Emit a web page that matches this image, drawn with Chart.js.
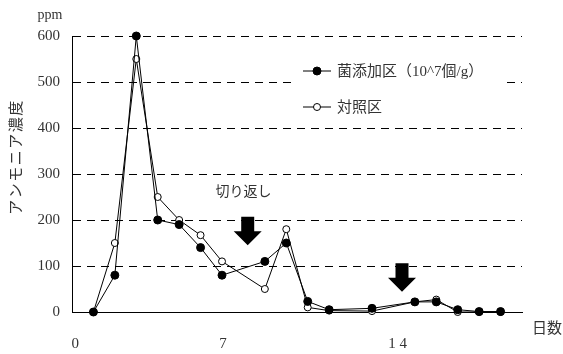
<!DOCTYPE html>
<html lang="ja">
<head>
<meta charset="utf-8">
<script src="https://cdn.jsdelivr.net/npm/chart.js@4/dist/chart.umd.min.js"></script>
<style>
  html, body { margin: 0; padding: 0; background: #fff; }
</style>
</head>
<body>
<canvas id="myChart" width="563" height="354"></canvas>
<script>
"use strict";

// days after start, and ammonia (ppm) for each plot
const days = [1, 2, 3, 4, 5, 6, 7, 9, 10, 11, 12, 14, 16, 17, 18, 19, 20];
const inoculated = [0, 80, 600, 200, 190, 140, 80, 110, 150, 23, 5, 8, 22, 22, 5, 1, 1];
const control = [0, 150, 550, 250, 200, 167, 110, 50, 180, 10, 3, 2, 22, 27, 0, 0, 0];
const seriesNames = ["菌添加区（10^7個/g）", "対照区"];

const yTicks = [0, 100, 200, 300, 400, 500, 600];
const xTickValues = [0.15, 7.05, 15.2];
const xTickLabels = ["0", "7", "1 4"];

// turning ("切り返し") marks: day and ppm at the arrow tip
const arrowDays = [8.2, 15.4];
const arrowTips = [145, 44];
const noteText = "切り返し";
const noteAt = { x: 8.0, y: 263 };

const serif = '"Liberation Serif", "Noto Sans CJK JP", serif';
const jp = '"Noto Sans CJK JP", sans-serif';
const ink = "#333";

const toPoints = (values) => days.map((d, i) => ({ x: d, y: values[i] }));

const notes = {
  id: "notes",
  afterDatasetsDraw(chart) {
    const { ctx, scales: { x, y } } = chart;
    ctx.save();

    // legend inside the plot
    ctx.fillStyle = "#fff";
    ctx.fillRect(296, 52, 206, 70);
    chart.data.datasets.forEach((ds, i) => {
      const ry = 71 + i * 36;
      ctx.strokeStyle = "#000";
      ctx.lineWidth = 1;
      ctx.beginPath();
      ctx.moveTo(303, ry);
      ctx.lineTo(331, ry);
      ctx.stroke();
      ctx.beginPath();
      ctx.arc(317, ry, ds.pointRadius, 0, Math.PI * 2);
      ctx.fillStyle = ds.pointBackgroundColor;
      ctx.fill();
      ctx.stroke();
      ctx.fillStyle = ink;
      ctx.font = "15px " + serif;
      ctx.textAlign = "left";
      ctx.textBaseline = "middle";
      ctx.fillText(ds.label, 337, ry + 1);
    });

    // arrows
    ctx.fillStyle = "#000";
    arrowDays.forEach((d, i) => {
      const cx = x.getPixelForValue(d);
      const ty = y.getPixelForValue(arrowTips[i]);
      ctx.beginPath();
      ctx.moveTo(cx, ty);
      ctx.lineTo(cx - 14, ty - 14);
      ctx.lineTo(cx - 6.5, ty - 14);
      ctx.lineTo(cx - 6.5, ty - 28.5);
      ctx.lineTo(cx + 6.5, ty - 28.5);
      ctx.lineTo(cx + 6.5, ty - 14);
      ctx.lineTo(cx + 14, ty - 14);
      ctx.closePath();
      ctx.fill();
    });

    ctx.fillStyle = ink;
    ctx.font = "14px " + jp;
    ctx.textAlign = "center";
    ctx.textBaseline = "middle";
    ctx.fillText(noteText, x.getPixelForValue(noteAt.x), y.getPixelForValue(noteAt.y));

    // unit and axis names
    ctx.font = "14px " + serif;
    ctx.fillText("ppm", 50, 15);
    ctx.font = "15px " + jp;
    ctx.textAlign = "left";
    ctx.fillText("日数", 532, 327);

    ctx.translate(15, 157);
    ctx.rotate(-Math.PI / 2);
    ctx.textAlign = "center";
    ctx.letterSpacing = "1.5px";
    ctx.fillText("アンモニア濃度", 0, 0);

    ctx.restore();
  },
};

const ctx = document.getElementById("myChart").getContext("2d");
const myChart = new Chart(ctx, {
  type: "line",
  data: {
    datasets: [
      {
        label: seriesNames[0],
        data: toPoints(inoculated),
        borderColor: "#000",
        borderWidth: 1,
        pointRadius: 4,
        pointBackgroundColor: "#000",
        pointBorderColor: "#000",
        pointBorderWidth: 1,
        tension: 0,
        clip: false,
      },
      {
        label: seriesNames[1],
        data: toPoints(control),
        borderColor: "#000",
        borderWidth: 1,
        pointRadius: 3.5,
        pointBackgroundColor: "#fff",
        pointBorderColor: "#000",
        pointBorderWidth: 1,
        tension: 0,
        clip: false,
      },
    ],
  },
  options: {
    responsive: false,
    animation: false,
    layout: { padding: { left: 0, right: 41, top: 36, bottom: 0 } },
    plugins: {
      legend: { display: false },
      tooltip: { enabled: false },
    },
    scales: {
      x: {
        type: "linear",
        min: 0,
        max: 21,
        grid: { display: false, drawTicks: false },
        border: { display: true, color: "#000", width: 1 },
        afterBuildTicks: (axis) => {
          axis.ticks = xTickValues.map((v) => ({ value: v }));
        },
        afterFit: (axis) => {
          axis.height = 42;
        },
        ticks: {
          padding: 23,
          maxRotation: 0,
          autoSkip: false,
          color: ink,
          font: { family: serif, size: 15 },
          callback: (v, i) => xTickLabels[i],
        },
      },
      y: {
        min: 0,
        max: 600,
        grid: { color: "#000", lineWidth: 1, drawTicks: false },
        border: { display: true, color: "#000", width: 1, dash: [8, 6] },
        afterBuildTicks: (axis) => {
          axis.ticks = yTicks.map((v) => ({ value: v }));
        },
        afterFit: (axis) => {
          axis.width = 72;
        },
        ticks: {
          padding: 12,
          color: ink,
          font: { family: serif, size: 15 },
        },
      },
    },
  },
  plugins: [notes],
});
</script>
</body>
</html>
